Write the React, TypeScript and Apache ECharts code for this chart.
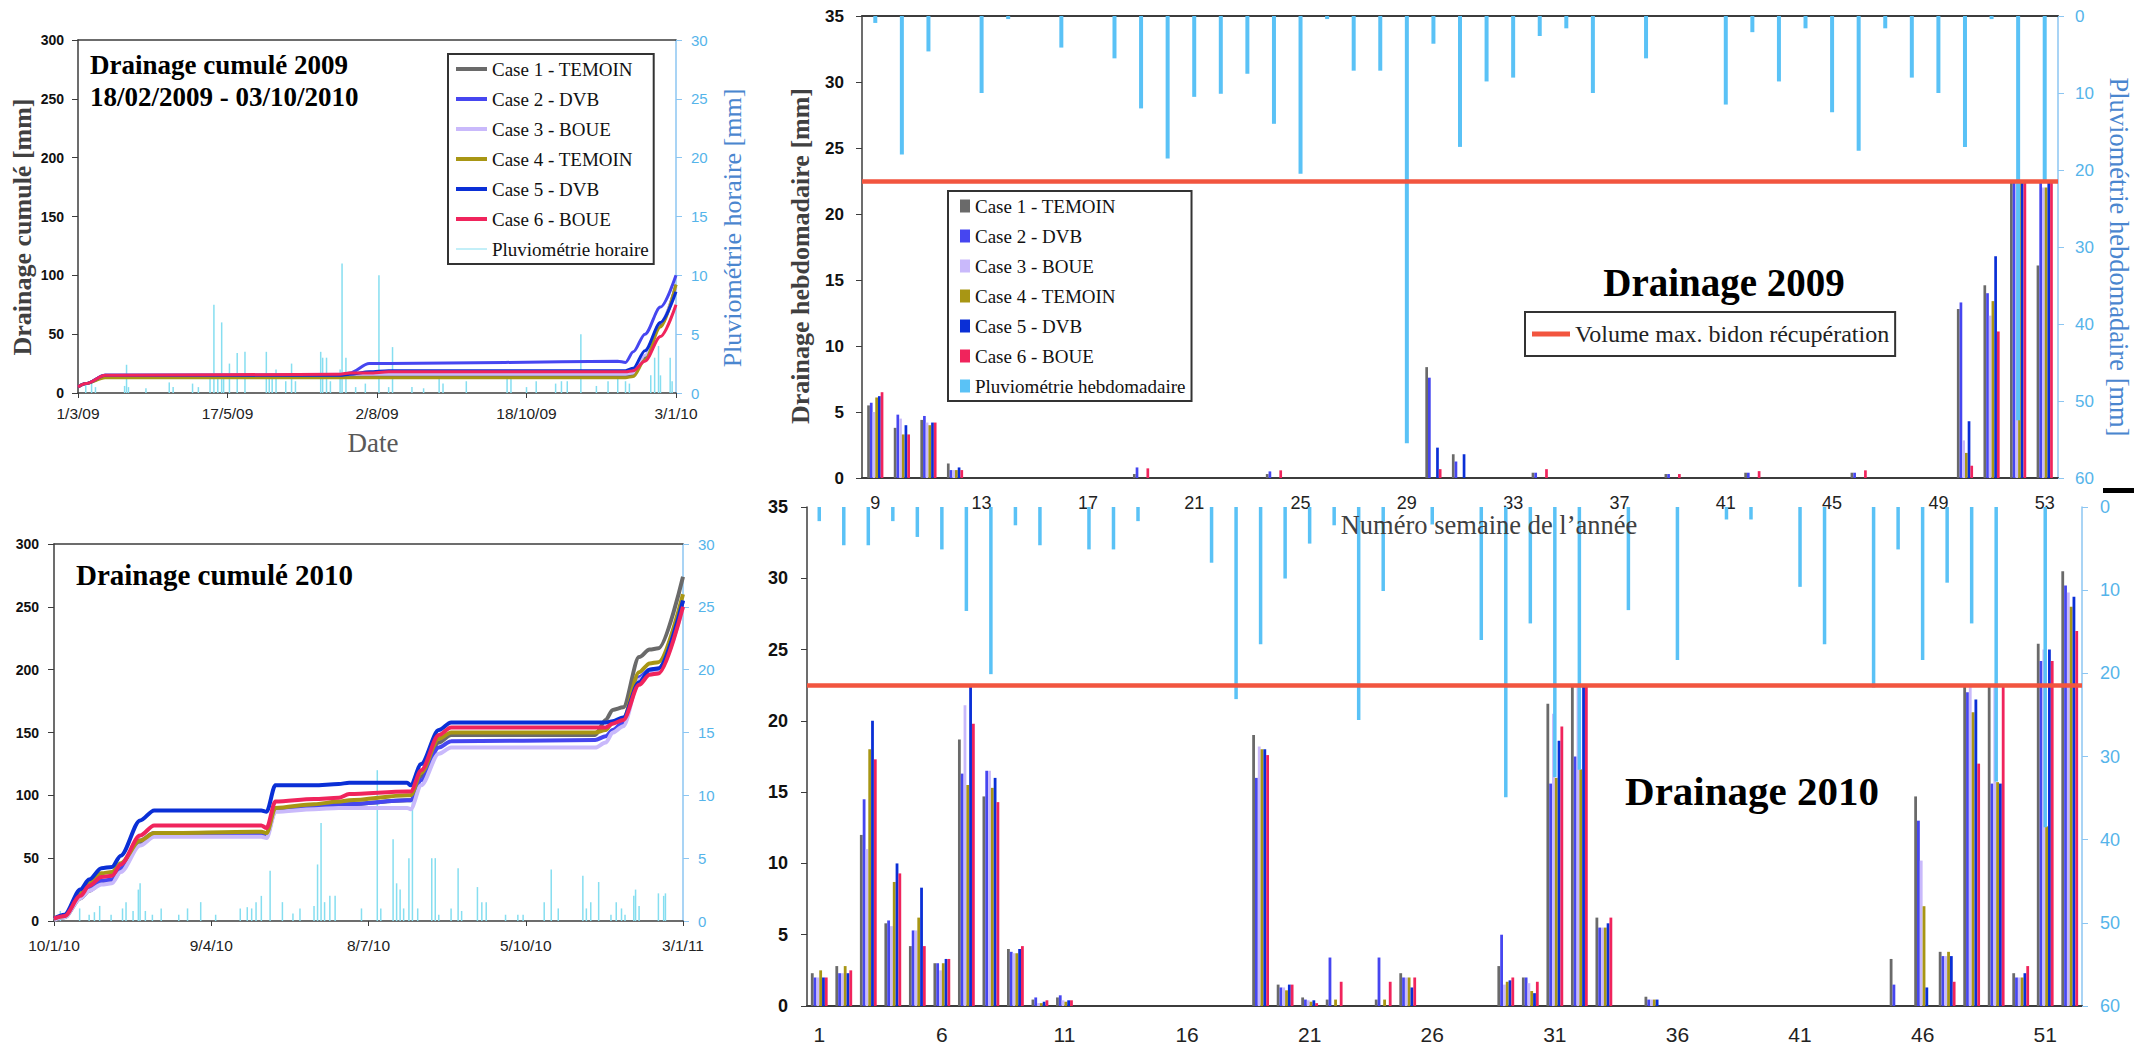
import React, { useEffect, useRef } from "react";
import * as echarts from "echarts";

// ---------- names / colours ----------
const CASE_NAMES = ["Case 1 - TEMOIN", "Case 2 - DVB", "Case 3 - BOUE", "Case 4 - TEMOIN", "Case 5 - DVB", "Case 6 - BOUE"];
const CASE_COLORS = ["#6a6a6a", "#4646f0", "#c9b9fb", "#a89614", "#0a2fd6", "#f0245c"];
const RAIN_H_NAME = "Pluviométrie horaire";
const RAIN_W_NAME = "Pluviométrie hebdomadaire";
const VOL_NAME = "Volume max. bidon récupération";
const MAX_VOLUME = 22.5;

// ---------- cumulative 2009 (days since 1/3/09) ----------
const dateLabels2009 = ["1/3/09", "17/5/09", "2/8/09", "18/10/09", "3/1/10"];
const days2009 = [0, 4, 14, 20, 135, 140, 150, 160, 220, 278, 282, 286, 292, 300, 308];
const cum2009Case1 = [5, 8, 14, 14, 14, 14, 14, 14, 14, 14, 14, 15, 30, 58, 92];
const cum2009Case2 = [5, 8, 15, 15, 15, 17, 25, 25, 26, 27, 26, 35, 50, 73, 100];
const cum2009Case3 = [5, 8, 15, 15, 16, 16, 16, 16, 16, 16, 16, 17, 32, 60, 90];
const cum2009Case4 = [5, 8, 13, 13, 13, 13, 13, 13, 13, 13, 13, 14, 28, 56, 92];
const cum2009Case5 = [5, 8, 15, 15, 15, 16, 18, 19, 19, 19, 19, 21, 36, 60, 86];
const cum2009Case6 = [5, 8, 15, 15, 16, 17, 17, 18, 18, 18, 18, 19, 27, 48, 75];
const hourDays2009 = [4, 7, 9, 24, 25, 26, 35, 47, 49, 59, 62, 68, 70, 72, 74, 75, 78, 82, 86, 97, 98.5, 100, 102, 107, 110, 112, 125, 126, 128, 130, 135, 136, 138, 143, 148, 155, 160, 162, 172, 178, 186, 188, 200, 221, 223, 231, 236, 246, 249, 252, 259, 267, 273, 278, 282, 284, 295, 297, 299, 300, 305, 306];
const hourRain2009 = [0.8, 0.9, 0.5, 0.6, 2.4, 0.5, 0.4, 0.9, 0.5, 0.8, 0.5, 1.5, 7.5, 1.2, 6.0, 1.5, 2.5, 3.4, 3.5, 3.5, 1.5, 1.2, 2.0, 1.0, 2.5, 1.0, 3.5, 3.0, 3.0, 1.0, 2.0, 11.0, 3.0, 0.5, 0.8, 10.0, 0.5, 3.9, 0.5, 0.4, 1.2, 0.8, 1.0, 1.2, 1.6, 0.5, 1.0, 0.8, 1.0, 1.0, 5.0, 0.6, 1.0, 1.5, 1.0, 0.8, 1.5, 3.0, 4.0, 1.5, 3.0, 1.0];

// ---------- cumulative 2010 (days since 10/1/10) ----------
const dateLabels2010 = ["10/1/10", "9/4/10", "8/7/10", "5/10/10", "3/1/11"];
const days2010 = [0, 6, 15, 20, 27, 33, 38, 49, 57, 118, 121, 126, 148, 162, 168, 201, 203, 209, 219, 226, 308, 314, 318, 324, 333, 339, 344, 358];
const cum2010Case1 = [1, 3, 18, 24, 30, 31, 40, 62, 68, 69, 68, 88, 92, 93, 93, 96, 96, 115, 142, 148, 148, 160, 168, 170, 210, 216, 217, 274];
const cum2010Case2 = [2, 4, 20, 26, 32, 33, 42, 64, 70, 70, 69, 89, 91, 92, 93, 96, 96, 112, 138, 143, 144, 147, 152, 158, 194, 200, 201, 255];
const cum2010Case3 = [1, 3, 18, 24, 29, 30, 39, 60, 67, 67, 66, 87, 89, 90, 90, 90, 89, 108, 133, 138, 138, 142, 150, 155, 192, 198, 199, 250];
const cum2010Case4 = [2, 4, 22, 30, 38, 39, 46, 64, 70, 71, 70, 90, 93, 95, 96, 100, 100, 118, 145, 150, 150, 152, 158, 161, 198, 205, 206, 260];
const cum2010Case5 = [2, 5, 25, 33, 42, 43, 52, 80, 88, 88, 87, 108, 108, 109, 110, 110, 108, 125, 152, 158, 158, 158, 159, 162, 190, 200, 201, 255];
const cum2010Case6 = [2, 4, 20, 28, 35, 36, 45, 68, 76, 76, 74, 95, 97, 98, 101, 103, 103, 120, 148, 154, 154, 154, 157, 160, 188, 196, 197, 250];
const hourDays2010 = [3.6, 14.6, 20, 23, 26, 32.5, 39, 41, 45, 48, 49, 52, 56, 61, 71, 76, 83.5, 92, 106, 110, 112.5, 115, 118, 123, 130, 136, 140, 148, 150, 152, 154, 157, 160, 175, 184, 186, 193, 195, 197, 199, 202, 204, 207, 215, 217, 219, 226, 230, 232, 241, 243.5, 246, 257, 264, 267, 279, 283, 287, 301, 303, 305.5, 310, 317, 320, 323, 325, 330, 331, 333, 344, 347, 348];
const hourRain2010 = [0.8, 1.0, 0.5, 0.7, 1.2, 0.5, 1.0, 1.5, 0.8, 2.5, 3.0, 0.8, 0.5, 1.0, 0.5, 1.0, 1.5, 0.5, 1.0, 1.1, 1.0, 1.5, 2.0, 4.0, 1.5, 0.6, 1.0, 1.2, 4.5, 7.8, 1.5, 2.0, 2.0, 1.0, 12.0, 1.0, 6.5, 3.0, 2.5, 1.0, 5.0, 9.5, 1.0, 5.0, 5.0, 0.5, 1.0, 4.2, 0.8, 2.7, 1.5, 1.5, 0.5, 0.5, 0.5, 1.5, 4.1, 1.0, 3.6, 1.0, 1.5, 3.1, 0.5, 1.5, 1.0, 0.5, 2.0, 2.5, 1.2, 2.2, 2.0, 2.2];

// ---------- weekly 2009 (weeks 9..53) ----------
const weeks2009 = ["9", "10", "11", "12", "13", "14", "15", "16", "17", "18", "19", "20", "21", "22", "23", "24", "25", "26", "27", "28", "29", "30", "31", "32", "33", "34", "35", "36", "37", "38", "39", "40", "41", "42", "43", "44", "45", "46", "47", "48", "49", "50", "51", "52", "53"];
const rainWeekly2009 = [0.9, 18.0, 4.6, 0, 10.0, 0.4, 0, 4.1, 0, 5.5, 12.0, 18.5, 10.5, 10.1, 7.5, 14.0, 20.5, 0.4, 7.1, 7.1, 55.5, 3.6, 17.0, 8.5, 8.0, 2.6, 1.6, 10.0, 0, 5.5, 0, 0, 11.5, 2.1, 8.5, 1.6, 12.5, 17.5, 1.6, 8.0, 10.0, 17.0, 0.4, 52.5, 21.7];
const drain2009Case1 = [5.5, 3.8, 4.4, 1.1, 0, 0, 0, 0, 0, 0, 0.3, 0, 0, 0, 0, 0.3, 0, 0, 0, 0, 0, 8.4, 1.8, 0, 0, 0.4, 0, 0, 0, 0, 0.3, 0, 0, 0.4, 0, 0, 0, 0.4, 0, 0, 0, 12.8, 14.6, 22.5, 16.1];
const drain2009Case2 = [5.7, 4.8, 4.7, 0.6, 0, 0, 0, 0, 0, 0, 0.8, 0, 0, 0, 0, 0.5, 0, 0, 0, 0, 0, 7.6, 1.25, 0, 0, 0.4, 0, 0, 0, 0, 0.3, 0, 0, 0.4, 0, 0, 0, 0.4, 0, 0, 0, 13.3, 14.0, 22.5, 22.5];
const drain2009Case3 = [5.0, 4.5, 4.2, 0.6, 0, 0, 0, 0, 0, 0, 0, 0, 0, 0, 0, 0, 0, 0, 0, 0, 0, 0, 0, 0, 0, 0, 0, 0, 0, 0, 0, 0, 0, 0, 0, 0, 0, 0, 0, 0, 0, 2.85, 12.3, 22.5, 22.0];
const drain2009Case4 = [6.1, 3.3, 4.0, 0.6, 0, 0, 0, 0, 0, 0, 0, 0, 0, 0, 0, 0, 0, 0, 0, 0, 0, 0, 0, 0, 0, 0, 0, 0, 0, 0, 0, 0, 0, 0, 0, 0, 0, 0, 0, 0, 0, 1.9, 13.4, 22.5, 22.0];
const drain2009Case5 = [6.2, 4.0, 4.2, 0.8, 0, 0, 0, 0, 0, 0, 0, 0, 0, 0, 0, 0, 0, 0, 0, 0, 0, 2.3, 1.8, 0, 0, 0, 0, 0, 0, 0, 0, 0, 0, 0, 0, 0, 0, 0, 0, 0, 0, 4.3, 16.8, 22.5, 22.5];
const drain2009Case6 = [6.5, 3.3, 4.2, 0.6, 0, 0, 0, 0, 0, 0, 0.73, 0, 0, 0, 0, 0.58, 0, 0, 0, 0, 0, 0.67, 0, 0, 0, 0.67, 0, 0, 0, 0, 0.3, 0, 0, 0.52, 0, 0, 0, 0.58, 0, 0, 0, 0.93, 11.1, 22.5, 22.5];

// ---------- weekly 2010 (weeks 1..52) ----------
const weeks2010 = ["1", "2", "3", "4", "5", "6", "7", "8", "9", "10", "11", "12", "13", "14", "15", "16", "17", "18", "19", "20", "21", "22", "23", "24", "25", "26", "27", "28", "29", "30", "31", "32", "33", "34", "35", "36", "37", "38", "39", "40", "41", "42", "43", "44", "45", "46", "47", "48", "49", "50", "51", "52"];
const rainWeekly2010 = [1.7, 4.6, 4.6, 1.7, 3.6, 5.1, 12.5, 20.1, 2.2, 4.6, 0, 5.1, 5.1, 1.7, 0, 0, 6.7, 23.1, 16.5, 8.6, 4.4, 2.2, 25.6, 10.1, 0, 2.1, 0, 16.0, 34.9, 14.0, 32.5, 31.6, 0, 12.4, 0, 18.4, 0, 1.5, 1.5, 0, 9.6, 16.5, 0, 21.7, 5.1, 18.4, 9.1, 14.0, 33.0, 0, 38.5, 0];
const drain2010Case1 = [2.3, 2.8, 12.0, 5.8, 4.2, 3.0, 18.7, 14.7, 4.0, 0.45, 0.6, 0, 0, 0, 0, 0, 0, 0, 19.0, 1.5, 0.6, 0.45, 0, 0.45, 2.3, 0, 0, 0, 2.8, 2.0, 21.2, 22.5, 6.2, 0, 0.65, 0, 0, 0, 0, 0, 0, 0, 0, 0, 3.3, 14.7, 3.8, 22.5, 22.5, 2.3, 25.4, 30.5];
const drain2010Case2 = [2.0, 2.3, 14.5, 6.0, 5.3, 3.0, 16.3, 16.5, 3.8, 0.6, 0.75, 0, 0, 0, 0, 0, 0, 0, 16.0, 1.3, 0.45, 3.4, 0, 3.4, 2.0, 0, 0, 0, 5.0, 2.0, 15.6, 17.5, 5.5, 0, 0.45, 0, 0, 0, 0, 0, 0, 0, 0, 0, 1.5, 13.0, 3.5, 22.0, 15.6, 2.0, 24.2, 29.5];
const drain2010Case3 = [2.0, 2.3, 11.0, 5.6, 5.3, 2.5, 21.1, 16.5, 3.7, 0.2, 0.4, 0, 0, 0, 0, 0, 0, 0, 18.2, 1.3, 0.4, 0, 0, 0, 2.0, 0, 0, 0, 1.5, 1.6, 20.5, 22.5, 5.5, 0, 0.45, 0, 0, 0, 0, 0, 0, 0, 0, 0, 0, 10.2, 3.5, 22.4, 22.5, 2.0, 25.0, 29.0];
const drain2010Case4 = [2.5, 2.8, 18.0, 8.7, 6.2, 3.0, 15.5, 15.3, 3.7, 0.2, 0.3, 0, 0, 0, 0, 0, 0, 0, 18.0, 1.1, 0.3, 0.45, 0, 0.45, 2.0, 0, 0, 0, 1.7, 1.05, 16.0, 16.6, 5.5, 0, 0.45, 0, 0, 0, 0, 0, 0, 0, 0, 0, 0, 7.0, 3.8, 20.6, 15.7, 2.0, 12.6, 28.0];
const drain2010Case5 = [2.0, 2.3, 20.0, 10.0, 8.3, 3.3, 22.4, 16.0, 4.0, 0.3, 0.4, 0, 0, 0, 0, 0, 0, 0, 18.0, 1.5, 0.4, 0, 0, 0, 1.3, 0, 0, 0, 1.8, 0.9, 18.6, 22.5, 5.8, 0, 0.45, 0, 0, 0, 0, 0, 0, 0, 0, 0, 0, 1.3, 3.5, 21.5, 15.6, 2.3, 25.0, 28.7];
const drain2010Case6 = [2.0, 2.5, 17.3, 9.3, 4.2, 3.3, 19.8, 14.3, 4.2, 0.4, 0.4, 0, 0, 0, 0, 0, 0, 0, 17.6, 1.5, 0.2, 1.7, 0, 1.7, 2.0, 0, 0, 0, 2.0, 1.7, 19.6, 22.5, 6.2, 0, 0, 0, 0, 0, 0, 0, 0, 0, 0, 0, 0, 0, 1.7, 17.0, 22.5, 2.8, 24.2, 26.3];

// ---------- styling ----------
const SERIF = "'Liberation Serif', 'Times New Roman', serif";
const SANS = "'Liberation Sans', Arial, sans-serif";
const AXIS_DARK = "#3c3c3c";
const RIGHT_BLUE = "#8cc6f2";
const RIGHT_LABEL = "#55b4ea";
const TITLE_BLUE = "#4a86cf";
const RAIN_HOURLY_COLOR = "#86def0";
const RAIN_WEEKLY_COLOR = "#5ac2f6";
const RED = "#f2553f";

function buildOption() {
  const cum2009 = [cum2009Case1, cum2009Case2, cum2009Case3, cum2009Case4, cum2009Case5, cum2009Case6];
  const cum2010 = [cum2010Case1, cum2010Case2, cum2010Case3, cum2010Case4, cum2010Case5, cum2010Case6];
  const drain2009 = [drain2009Case1, drain2009Case2, drain2009Case3, drain2009Case4, drain2009Case5, drain2009Case6];
  const drain2010 = [drain2010Case1, drain2010Case2, drain2010Case3, drain2010Case4, drain2010Case5, drain2010Case6];

  const span2009 = 308;
  const span2010 = 358;
  const step2009 = span2009 / 4;
  const step2010 = span2010 / 4;

  const dateAxis = (grid: number, span: number, step: number, labels: string[], margin: number) => ({
    type: "value", gridIndex: grid, min: 0, max: span, interval: step, position: "bottom",
    axisLine: { show: true, onZero: false, lineStyle: { color: AXIS_DARK, width: 1.5 } },
    axisTick: { show: true, length: 5, lineStyle: { color: AXIS_DARK } },
    splitLine: { show: false },
    axisLabel: {
      formatter: (v: number) => labels[Math.round(v / step)] ?? "",
      fontFamily: SANS, fontSize: 15.5, color: "#222", margin,
    },
  });
  const topLine = (grid: number, span: number) => ({
    type: "value", gridIndex: grid, min: 0, max: span, position: "top",
    axisLine: { show: true, onZero: false, lineStyle: { color: AXIS_DARK, width: 1.5 } },
    axisTick: { show: false }, axisLabel: { show: false }, splitLine: { show: false },
  });
  const weekAxis = (grid: number, data: string[], interval: number, fs: number, margin: number) => ({
    type: "category", gridIndex: grid, data, position: "bottom",
    axisLine: { show: true, onZero: false, lineStyle: { color: AXIS_DARK, width: 2 } },
    axisTick: { show: false }, splitLine: { show: false },
    axisLabel: { interval, fontFamily: SANS, fontSize: fs, color: "#222", margin },
  });
  const weekTopAxis = (grid: number, data: string[], showLine: boolean) => ({
    type: "category", gridIndex: grid, data, position: "top",
    axisLine: { show: showLine, onZero: false, lineStyle: { color: AXIS_DARK, width: 2 } },
    axisTick: { show: false }, axisLabel: { show: false }, splitLine: { show: false },
  });
  const leftAxis = (grid: number, max: number, interval: number, fs: number, margin: number) => ({
    type: "value", gridIndex: grid, min: 0, max, interval, position: "left",
    axisLine: { show: true, onZero: false, lineStyle: { color: AXIS_DARK, width: 1.5 } },
    axisTick: { show: true, length: 6, lineStyle: { color: AXIS_DARK } },
    splitLine: { show: false },
    axisLabel: { fontFamily: SANS, fontWeight: "bold", fontSize: fs, color: "#111", margin },
  });
  const rightAxis = (grid: number, max: number, interval: number, fs: number, margin: number, inverse: boolean) => ({
    type: "value", gridIndex: grid, min: 0, max, interval, position: "right", inverse,
    axisLine: { show: true, onZero: false, lineStyle: { color: RIGHT_BLUE, width: 1.5 } },
    axisTick: { show: true, length: 6, lineStyle: { color: RIGHT_BLUE } },
    splitLine: { show: false },
    axisLabel: { fontFamily: SANS, fontSize: fs, color: RIGHT_LABEL, margin },
  });

  const series: any[] = [];
  series.push({
    type: "bar", name: RAIN_H_NAME, xAxisIndex: 0, yAxisIndex: 1, barWidth: 1.5, z: 1,
    itemStyle: { color: RAIN_HOURLY_COLOR },
    data: hourDays2009.map((d, k) => [d, hourRain2009[k]]),
  });
  series.push({
    type: "bar", name: RAIN_H_NAME, xAxisIndex: 2, yAxisIndex: 3, barWidth: 1.5, z: 1,
    itemStyle: { color: RAIN_HOURLY_COLOR },
    data: hourDays2010.map((d, k) => [d, hourRain2010[k]]),
  });
  CASE_NAMES.forEach((name, i) => {
    series.push({
      type: "line", name, xAxisIndex: 0, yAxisIndex: 0, symbol: "none", smooth: 0.3, smoothMonotone: "x", z: 3,
      lineStyle: { width: 3, color: CASE_COLORS[i] }, itemStyle: { color: CASE_COLORS[i] },
      data: days2009.map((d, k) => [d, cum2009[i][k]]),
    });
  });
  CASE_NAMES.forEach((name, i) => {
    series.push({
      type: "line", name, xAxisIndex: 2, yAxisIndex: 2, symbol: "none", smooth: 0.3, smoothMonotone: "x", z: 3,
      lineStyle: { width: 4, color: CASE_COLORS[i] }, itemStyle: { color: CASE_COLORS[i] },
      data: days2010.map((d, k) => [d, cum2010[i][k]]),
    });
  });
  CASE_NAMES.forEach((name, i) => {
    series.push({
      type: "bar", name, xAxisIndex: 4, yAxisIndex: 4, barWidth: 2.7, barGap: "0%", z: 2,
      itemStyle: { color: CASE_COLORS[i] }, data: drain2009[i],
    });
  });
  CASE_NAMES.forEach((name, i) => {
    series.push({
      type: "bar", name, xAxisIndex: 6, yAxisIndex: 6, barWidth: 2.8, barGap: "0%", z: 2,
      itemStyle: { color: CASE_COLORS[i] }, data: drain2010[i],
    });
  });
  series.push({
    type: "bar", name: RAIN_W_NAME, xAxisIndex: 5, yAxisIndex: 5, barWidth: 4, z: 3,
    itemStyle: { color: RAIN_WEEKLY_COLOR }, data: rainWeekly2009,
  });
  series.push({
    type: "bar", name: RAIN_W_NAME, xAxisIndex: 7, yAxisIndex: 7, barWidth: 3.5, z: 3,
    itemStyle: { color: RAIN_WEEKLY_COLOR }, data: rainWeekly2010,
  });
  const volLine = (xi: number, yi: number) => ({
    type: "line", name: VOL_NAME, xAxisIndex: xi, yAxisIndex: yi, data: [], z: 4,
    itemStyle: { color: RED }, lineStyle: { color: RED },
    markLine: {
      silent: true, symbol: ["none", "none"], label: { show: false },
      lineStyle: { color: RED, width: 4.5, type: "solid" },
      data: [{ yAxis: MAX_VOLUME }],
    },
  });
  series.push(volLine(4, 4));
  series.push(volLine(6, 6));

  const txt = (x: number, y: number, text: string, fs: number, opts: any = {}) => ({
    type: "text", x, y, rotation: opts.rotation ?? 0, z: 10,
    style: {
      text, fontFamily: SERIF, fontSize: fs, fontWeight: opts.bold ? "bold" : "normal",
      fill: opts.fill ?? "#000",
      align: opts.align ?? "center", verticalAlign: "middle",
      textAlign: opts.align ?? "center", textVerticalAlign: "middle",
    },
  });

  return {
    animation: false,
    backgroundColor: "#ffffff",
    grid: [
      { left: 78, top: 40, width: 598, height: 353 },
      { left: 54, top: 544, width: 629, height: 377 },
      { left: 862, top: 16, width: 1196, height: 462 },
      { left: 807, top: 507, width: 1275, height: 501 },
    ],
    xAxis: [
      dateAxis(0, span2009, step2009, dateLabels2009, 12),
      topLine(0, span2009),
      dateAxis(1, span2010, step2010, dateLabels2010, 16),
      topLine(1, span2010),
      weekAxis(2, weeks2009, 3, 18, 16),
      weekTopAxis(2, weeks2009, true),
      weekAxis(3, weeks2010, 4, 21, 18),
      weekTopAxis(3, weeks2010, false),
    ],
    yAxis: [
      leftAxis(0, 300, 50, 14, 14),
      rightAxis(0, 30, 5, 15, 15, false),
      leftAxis(1, 300, 50, 14, 15),
      rightAxis(1, 30, 5, 15, 15, false),
      leftAxis(2, 35, 5, 17, 18),
      rightAxis(2, 60, 10, 17, 17, true),
      leftAxis(3, 35, 5, 18, 19),
      rightAxis(3, 60, 10, 18, 18, true),
    ],
    legend: [
      {
        left: 448, top: 54, orient: "vertical", padding: [5, 5, 5, 8], itemGap: 10,
        itemWidth: 31, itemHeight: 4, borderColor: "#333", borderWidth: 2, selectedMode: false,
        textStyle: { fontFamily: SERIF, fontSize: 19, color: "#111", lineHeight: 20 },
        data: [
          ...CASE_NAMES.map((n) => ({ name: n, icon: "rect" })),
          { name: RAIN_H_NAME, icon: "path://M0,0h31v1h-31z" },
        ],
      },
      {
        left: 948, top: 191, orient: "vertical", padding: [5, 6, 5, 12], itemGap: 10,
        itemWidth: 10, itemHeight: 13, borderColor: "#333", borderWidth: 2, selectedMode: false,
        textStyle: { fontFamily: SERIF, fontSize: 19, color: "#111", lineHeight: 20 },
        data: [
          ...CASE_NAMES.map((n) => ({ name: n, icon: "rect" })),
          { name: RAIN_W_NAME, icon: "rect" },
        ],
      },
      {
        left: 1525, top: 312, orient: "vertical", padding: [8, 6, 8, 7],
        itemWidth: 38, itemHeight: 5, borderColor: "#333", borderWidth: 2, selectedMode: false,
        textStyle: { fontFamily: SERIF, fontSize: 24, color: "#222", lineHeight: 28 },
        data: [{ name: VOL_NAME, icon: "rect" }],
      },
    ],
    graphic: [
      txt(90, 65, "Drainage cumulé 2009", 27, { bold: true, align: "left" }),
      txt(90, 97, "18/02/2009 - 03/10/2010", 27, { bold: true, align: "left" }),
      txt(76, 575, "Drainage cumulé 2010", 29, { bold: true, align: "left" }),
      txt(1724, 282, "Drainage 2009", 39, { bold: true }),
      txt(1752, 791, "Drainage 2010", 41, { bold: true }),
      txt(373, 443, "Date", 27, { fill: "#595959" }),
      txt(1489, 525, "Numéro semaine de l’année", 26.5, { fill: "#404040" }),
      txt(22, 227, "Drainage cumulé [mm]", 26, { bold: true, fill: "#404040", rotation: Math.PI / 2 }),
      txt(732, 228, "Pluviométrie horaire [mm]", 26, { fill: TITLE_BLUE, rotation: Math.PI / 2 }),
      txt(800, 256, "Drainage hebdomadaire [mm]", 26, { bold: true, fill: "#404040", rotation: Math.PI / 2 }),
      txt(2119, 257, "Pluviométrie hebdomadaire [mm]", 26.5, { fill: TITLE_BLUE, rotation: -Math.PI / 2 }),
      { type: "rect", shape: { x: 2103, y: 488, width: 31, height: 5 }, style: { fill: "#000" }, z: 10 },
    ],
    series,
  };
}

export default function App() {
  const ref = useRef<HTMLDivElement>(null);
  useEffect(() => {
    if (!ref.current) return;
    const chart = echarts.init(ref.current, null, { renderer: "svg" });
    chart.setOption(buildOption() as any);
    return () => chart.dispose();
  }, []);
  return (
    <div
      ref={ref}
      style={{ position: "absolute", left: 0, top: 0, width: 2145, height: 1045, background: "#ffffff" }}
    />
  );
}
